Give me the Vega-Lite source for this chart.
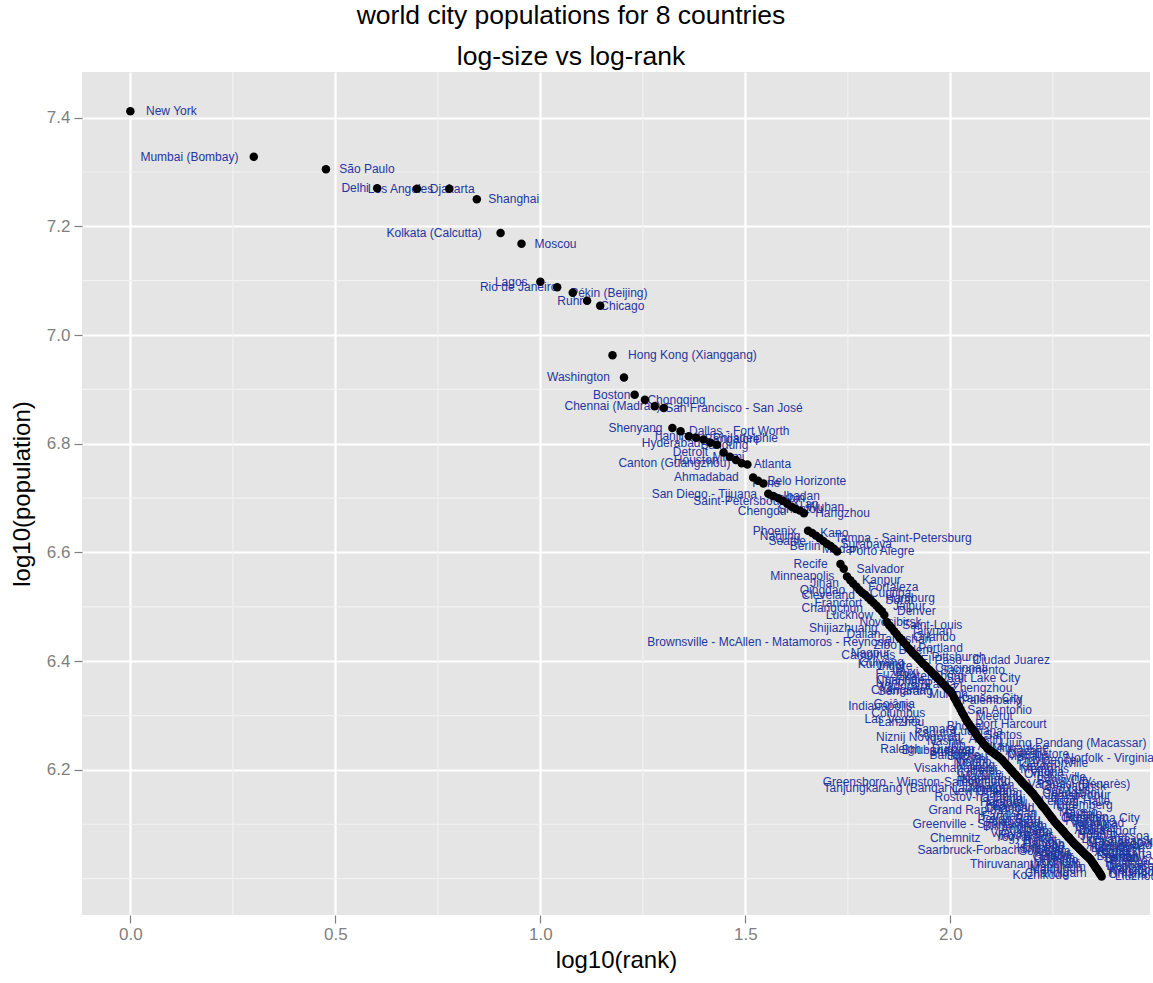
{
"$schema": "https://vega.github.io/schema/vega-lite/v6.json",
"width": 1068, "height": 843,
"autosize": {"type": "none"},
"padding": {"left": 82, "top": 72, "right": 3, "bottom": 68},
"background": "#FFFFFF",
"title": {"text": ["world city populations for 8 countries", "log-size vs log-rank"], "fontSize": 26.5, "fontWeight": "normal", "font": "Liberation Sans", "color": "#000000", "lineHeight": 41, "anchor": "middle", "frame": "group", "dx": -45, "offset": 1},
"config": {
 "view": {"fill": "#E5E5E5", "stroke": null},
 "font": "Liberation Sans",
 "axis": {"format": ".1f", "labelFontSize": 17, "labelColor": "#7F7F7F", "labelFont": "Liberation Sans", "tickColor": "#7F7F7F", "tickSize": 8, "tickWidth": 1.2, "domain": false, "grid": true, "gridColor": "#FFFFFF", "gridWidth": 2.2, "titleFontSize": 24, "titleFont": "Liberation Sans", "titleFontWeight": "normal", "titleColor": "#000000"},
 "axisX": {"labelPadding": 3, "titlePadding": 6},
 "axisY": {"labelPadding": 4, "titlePadding": 12}
},
"data": {"values": [
{"city":"New York","log_rank":0.000,"log_pop":7.412,"label_x":0.100},
{"city":"Mumbai (Bombay)","log_rank":0.301,"log_pop":7.328,"label_x":0.144},
{"city":"São Paulo","log_rank":0.477,"log_pop":7.305,"label_x":0.577},
{"city":"Delhi","log_rank":0.602,"log_pop":7.270,"label_x":0.548},
{"city":"Los Angeles","log_rank":0.699,"log_pop":7.269,"label_x":0.659},
{"city":"Djakarta","log_rank":0.778,"log_pop":7.269,"label_x":0.785},
{"city":"Shanghai","log_rank":0.845,"log_pop":7.250,"label_x":0.935},
{"city":"Kolkata (Calcutta)","log_rank":0.903,"log_pop":7.188,"label_x":0.741},
{"city":"Moscou","log_rank":0.954,"log_pop":7.168,"label_x":1.037},
{"city":"Lagos","log_rank":1.000,"log_pop":7.098,"label_x":0.929},
{"city":"Rio de Janeiro","log_rank":1.041,"log_pop":7.088,"label_x":0.947},
{"city":"Pékin (Beijing)","log_rank":1.079,"log_pop":7.078,"label_x":1.167},
{"city":"Ruhr","log_rank":1.114,"log_pop":7.063,"label_x":1.073},
{"city":"Chicago","log_rank":1.146,"log_pop":7.054,"label_x":1.200},
{"city":"Hong Kong (Xianggang)","log_rank":1.176,"log_pop":6.963,"label_x":1.371},
{"city":"Washington","log_rank":1.204,"log_pop":6.922,"label_x":1.093},
{"city":"Boston","log_rank":1.230,"log_pop":6.890,"label_x":1.174},
{"city":"Chongqing","log_rank":1.255,"log_pop":6.881,"label_x":1.332},
{"city":"Chennai (Madras)","log_rank":1.279,"log_pop":6.869,"label_x":1.176},
{"city":"San Francisco - San José","log_rank":1.301,"log_pop":6.866,"label_x":1.472},
{"city":"Shenyang","log_rank":1.322,"log_pop":6.829,"label_x":1.232},
{"city":"Dallas - Fort Worth","log_rank":1.342,"log_pop":6.823,"label_x":1.485},
{"city":"Tianjin","log_rank":1.362,"log_pop":6.814,"label_x":1.317},
{"city":"Philadelphie","log_rank":1.380,"log_pop":6.811,"label_x":1.500},
{"city":"Bangalore","log_rank":1.398,"log_pop":6.808,"label_x":1.468},
{"city":"Hyderabad","log_rank":1.415,"log_pop":6.802,"label_x":1.319},
{"city":"Bandung","log_rank":1.431,"log_pop":6.798,"label_x":1.449},
{"city":"Detroit","log_rank":1.447,"log_pop":6.784,"label_x":1.366},
{"city":"Miami","log_rank":1.462,"log_pop":6.776,"label_x":1.459},
{"city":"Houston","log_rank":1.477,"log_pop":6.770,"label_x":1.380},
{"city":"Canton (Guangzhou)","log_rank":1.491,"log_pop":6.764,"label_x":1.327},
{"city":"Atlanta","log_rank":1.505,"log_pop":6.762,"label_x":1.566},
{"city":"Ahmadabad","log_rank":1.519,"log_pop":6.738,"label_x":1.405},
{"city":"Belo Horizonte","log_rank":1.531,"log_pop":6.732,"label_x":1.650},
{"city":"Pune","log_rank":1.544,"log_pop":6.727,"label_x":1.551},
{"city":"San Diego - Tijuana","log_rank":1.556,"log_pop":6.708,"label_x":1.400},
{"city":"Ibadan","log_rank":1.568,"log_pop":6.704,"label_x":1.637},
{"city":"Harbin","log_rank":1.580,"log_pop":6.700,"label_x":1.602},
{"city":"Saint-Petersbourg","log_rank":1.591,"log_pop":6.695,"label_x":1.491},
{"city":"Xi'an","log_rank":1.602,"log_pop":6.690,"label_x":1.646},
{"city":"Wuhan","log_rank":1.613,"log_pop":6.684,"label_x":1.695},
{"city":"Shantou","log_rank":1.623,"log_pop":6.680,"label_x":1.634},
{"city":"Chengdu","log_rank":1.633,"log_pop":6.677,"label_x":1.541},
{"city":"Hangzhou","log_rank":1.643,"log_pop":6.672,"label_x":1.737},
{"city":"Phoenix","log_rank":1.653,"log_pop":6.640,"label_x":1.571},
{"city":"Kano","log_rank":1.663,"log_pop":6.636,"label_x":1.717},
{"city":"Nanjing","log_rank":1.672,"log_pop":6.631,"label_x":1.585},
{"city":"Tampa - Saint-Petersburg","log_rank":1.681,"log_pop":6.626,"label_x":1.885},
{"city":"Seattle","log_rank":1.690,"log_pop":6.621,"label_x":1.602},
{"city":"Surabaya","log_rank":1.699,"log_pop":6.616,"label_x":1.795},
{"city":"Berlin","log_rank":1.708,"log_pop":6.612,"label_x":1.646},
{"city":"Medan","log_rank":1.716,"log_pop":6.607,"label_x":1.732},
{"city":"Porto Alegre","log_rank":1.724,"log_pop":6.602,"label_x":1.832},
{"city":"Recife","log_rank":1.732,"log_pop":6.579,"label_x":1.659},
{"city":"Salvador","log_rank":1.740,"log_pop":6.570,"label_x":1.829},
{"city":"Minneapolis","log_rank":1.748,"log_pop":6.556,"label_x":1.639},
{"city":"Kanpur","log_rank":1.756,"log_pop":6.549,"label_x":1.832},
{"city":"Jinan","log_rank":1.763,"log_pop":6.543,"label_x":1.693},
{"city":"Fortaleza","log_rank":1.771,"log_pop":6.537,"label_x":1.861},
{"city":"Qingdao","log_rank":1.778,"log_pop":6.531,"label_x":1.688},
{"city":"Curitiba","log_rank":1.785,"log_pop":6.526,"label_x":1.854},
{"city":"Cleveland","log_rank":1.792,"log_pop":6.522,"label_x":1.702},
{"city":"Hamburg","log_rank":1.799,"log_pop":6.517,"label_x":1.902},
{"city":"Surat","log_rank":1.806,"log_pop":6.512,"label_x":1.876},
{"city":"Francfort","log_rank":1.813,"log_pop":6.507,"label_x":1.727},
{"city":"Jaipur","log_rank":1.820,"log_pop":6.502,"label_x":1.900},
{"city":"Changchun","log_rank":1.826,"log_pop":6.497,"label_x":1.712},
{"city":"Denver","log_rank":1.833,"log_pop":6.492,"label_x":1.917},
{"city":"Lucknow","log_rank":1.839,"log_pop":6.485,"label_x":1.754},
{"city":"Novosibirsk","log_rank":1.845,"log_pop":6.472,"label_x":1.854},
{"city":"Saint-Louis","log_rank":1.851,"log_pop":6.466,"label_x":1.956},
{"city":"Shijiazhuang","log_rank":1.857,"log_pop":6.461,"label_x":1.739},
{"city":"Taiyuan","log_rank":1.863,"log_pop":6.455,"label_x":1.954},
{"city":"Dalian","log_rank":1.869,"log_pop":6.450,"label_x":1.788},
{"city":"Orlando","log_rank":1.875,"log_pop":6.444,"label_x":1.961},
{"city":"Tangshan","log_rank":1.881,"log_pop":6.440,"label_x":1.890},
{"city":"Brownsville - McAllen - Matamoros - Reynosa","log_rank":1.886,"log_pop":6.435,"label_x":1.557},
{"city":"Zibo","log_rank":1.892,"log_pop":6.430,"label_x":1.841},
{"city":"Portland","log_rank":1.898,"log_pop":6.424,"label_x":1.976},
{"city":"Belém","log_rank":1.903,"log_pop":6.420,"label_x":1.915},
{"city":"Nagpur","log_rank":1.908,"log_pop":6.415,"label_x":1.805},
{"city":"Campinas","log_rank":1.914,"log_pop":6.411,"label_x":1.800},
{"city":"Pittsburgh","log_rank":1.919,"log_pop":6.407,"label_x":2.020},
{"city":"El Paso - Ciudad Juarez","log_rank":1.924,"log_pop":6.403,"label_x":2.085},
{"city":"Guiyang","log_rank":1.929,"log_pop":6.399,"label_x":1.832},
{"city":"Kunming","log_rank":1.934,"log_pop":6.395,"label_x":1.832},
{"city":"Indore","log_rank":1.940,"log_pop":6.391,"label_x":1.866},
{"city":"Cincinnati","log_rank":1.944,"log_pop":6.387,"label_x":2.027},
{"city":"Sacramento","log_rank":1.949,"log_pop":6.384,"label_x":2.054},
{"city":"Wuxi","log_rank":1.954,"log_pop":6.380,"label_x":1.890},
{"city":"Fuzhou","log_rank":1.959,"log_pop":6.376,"label_x":1.866},
{"city":"Ekaterinburg","log_rank":1.964,"log_pop":6.373,"label_x":1.951},
{"city":"Salt Lake City","log_rank":1.968,"log_pop":6.369,"label_x":2.080},
{"city":"Charlotte","log_rank":1.973,"log_pop":6.366,"label_x":1.878},
{"city":"Nanchang","log_rank":1.978,"log_pop":6.362,"label_x":1.885},
{"city":"Patna","log_rank":1.982,"log_pop":6.358,"label_x":1.976},
{"city":"Vadodara","log_rank":1.987,"log_pop":6.355,"label_x":1.890},
{"city":"Zhengzhou","log_rank":1.991,"log_pop":6.351,"label_x":2.078},
{"city":"Changsha","log_rank":1.996,"log_pop":6.347,"label_x":1.873},
{"city":"Semarang","log_rank":2.000,"log_pop":6.345,"label_x":1.890},
{"city":"Munich","log_rank":2.004,"log_pop":6.340,"label_x":1.995},
{"city":"Kansas City","log_rank":2.009,"log_pop":6.333,"label_x":2.098},
{"city":"Palembang","log_rank":2.013,"log_pop":6.328,"label_x":2.102},
{"city":"Goiânia","log_rank":2.017,"log_pop":6.322,"label_x":1.863},
{"city":"Indianapolis","log_rank":2.021,"log_pop":6.317,"label_x":1.829},
{"city":"San Antonio","log_rank":2.025,"log_pop":6.311,"label_x":2.120},
{"city":"Columbus","log_rank":2.029,"log_pop":6.305,"label_x":1.873},
{"city":"Meerut","log_rank":2.033,"log_pop":6.300,"label_x":2.107},
{"city":"Las Vegas","log_rank":2.037,"log_pop":6.294,"label_x":1.859},
{"city":"Lanzhou","log_rank":2.041,"log_pop":6.289,"label_x":1.880},
{"city":"Port Harcourt","log_rank":2.045,"log_pop":6.285,"label_x":2.148},
{"city":"Bhopal","log_rank":2.049,"log_pop":6.280,"label_x":2.037},
{"city":"Samara","log_rank":2.053,"log_pop":6.276,"label_x":1.963},
{"city":"Ludhiana","log_rank":2.057,"log_pop":6.272,"label_x":2.068},
{"city":"Kaduna","log_rank":2.061,"log_pop":6.268,"label_x":1.963},
{"city":"Santos","log_rank":2.064,"log_pop":6.264,"label_x":2.129},
{"city":"Niznij Novgorod","log_rank":2.068,"log_pop":6.260,"label_x":1.922},
{"city":"Austin","log_rank":2.072,"log_pop":6.256,"label_x":2.085},
{"city":"Nashik","log_rank":2.076,"log_pop":6.253,"label_x":1.988},
{"city":"Ujung Pandang (Macassar)","log_rank":2.079,"log_pop":6.250,"label_x":2.300},
{"city":"Jilin","log_rank":2.083,"log_pop":6.246,"label_x":2.012},
{"city":"Agra","log_rank":2.086,"log_pop":6.244,"label_x":2.098},
{"city":"Milwaukee","log_rank":2.090,"log_pop":6.240,"label_x":2.171},
{"city":"Raleigh - Durham","log_rank":2.093,"log_pop":6.238,"label_x":1.944},
{"city":"Bhubaneswar","log_rank":2.097,"log_pop":6.236,"label_x":1.971},
{"city":"Aracaju","log_rank":2.100,"log_pop":6.234,"label_x":2.184},
{"city":"Stuttgart","log_rank":2.104,"log_pop":6.232,"label_x":2.004},
{"city":"Coimbatore","log_rank":2.107,"log_pop":6.230,"label_x":2.214},
{"city":"Baltimore","log_rank":2.111,"log_pop":6.228,"label_x":2.011},
{"city":"Manaus","log_rank":2.114,"log_pop":6.226,"label_x":2.190},
{"city":"Suzhou","log_rank":2.117,"log_pop":6.225,"label_x":2.041},
{"city":"Norfolk - Virginia Beach","log_rank":2.121,"log_pop":6.222,"label_x":2.434},
{"city":"Kochi","log_rank":2.124,"log_pop":6.220,"label_x":2.056},
{"city":"Providence","log_rank":2.127,"log_pop":6.218,"label_x":2.234},
{"city":"Ningbo","log_rank":2.130,"log_pop":6.215,"label_x":2.054},
{"city":"Jacksonville","log_rank":2.134,"log_pop":6.212,"label_x":2.257},
{"city":"Malang","log_rank":2.137,"log_pop":6.209,"label_x":2.061},
{"city":"Kazan","log_rank":2.140,"log_pop":6.207,"label_x":2.208},
{"city":"Visakhapatnam","log_rank":2.143,"log_pop":6.204,"label_x":2.012},
{"city":"Memphis","log_rank":2.146,"log_pop":6.202,"label_x":2.230},
{"city":"Hefei","log_rank":2.149,"log_pop":6.199,"label_x":2.081},
{"city":"Vitória","log_rank":2.152,"log_pop":6.197,"label_x":2.236},
{"city":"Cologne","log_rank":2.155,"log_pop":6.194,"label_x":2.071},
{"city":"Omsk","log_rank":2.158,"log_pop":6.192,"label_x":2.218},
{"city":"Madurai","log_rank":2.161,"log_pop":6.189,"label_x":2.077},
{"city":"Louisville","log_rank":2.164,"log_pop":6.187,"label_x":2.271},
{"city":"Nanning","log_rank":2.167,"log_pop":6.184,"label_x":2.083},
{"city":"Benin City","log_rank":2.170,"log_pop":6.182,"label_x":2.277},
{"city":"Richmond","log_rank":2.173,"log_pop":6.179,"label_x":2.081},
{"city":"Greensboro - Winston-Salem","log_rank":2.176,"log_pop":6.177,"label_x":1.878},
{"city":"Varanasi (Bénarès)","log_rank":2.179,"log_pop":6.174,"label_x":2.314},
{"city":"Xiamen","log_rank":2.182,"log_pop":6.172,"label_x":2.106},
{"city":"Chelyabinsk","log_rank":2.185,"log_pop":6.170,"label_x":2.300},
{"city":"Jabalpur","log_rank":2.188,"log_pop":6.167,"label_x":2.096},
{"city":"Tanjungkarang (Bandar Lampung)","log_rank":2.190,"log_pop":6.166,"label_x":1.913},
{"city":"São Luís","log_rank":2.193,"log_pop":6.163,"label_x":2.285},
{"city":"New Orleans","log_rank":2.196,"log_pop":6.161,"label_x":2.081},
{"city":"Changzhou","log_rank":2.199,"log_pop":6.158,"label_x":2.299},
{"city":"Padang","log_rank":2.201,"log_pop":6.157,"label_x":2.125},
{"city":"Jamshedpur","log_rank":2.204,"log_pop":6.154,"label_x":2.311},
{"city":"Rostov-na-Donu","log_rank":2.207,"log_pop":6.151,"label_x":2.068},
{"city":"Natal","log_rank":2.210,"log_pop":6.148,"label_x":2.278},
{"city":"Urumqi","log_rank":2.212,"log_pop":6.146,"label_x":2.136},
{"city":"Leipzig-Halle","log_rank":2.215,"log_pop":6.143,"label_x":2.305},
{"city":"Hartford","log_rank":2.217,"log_pop":6.141,"label_x":2.125},
{"city":"Asansol","log_rank":2.220,"log_pop":6.138,"label_x":2.136},
{"city":"Nuremberg","log_rank":2.223,"log_pop":6.135,"label_x":2.323},
{"city":"Baotou","log_rank":2.225,"log_pop":6.133,"label_x":2.149},
{"city":"Ufa","log_rank":2.228,"log_pop":6.131,"label_x":2.281},
{"city":"Dhanbad","log_rank":2.230,"log_pop":6.129,"label_x":2.146},
{"city":"Grand Rapids","log_rank":2.233,"log_pop":6.126,"label_x":2.037},
{"city":"Maceió","log_rank":2.236,"log_pop":6.123,"label_x":2.312},
{"city":"Anshan","log_rank":2.238,"log_pop":6.121,"label_x":2.162},
{"city":"Buffalo","log_rank":2.241,"log_pop":6.118,"label_x":2.325},
{"city":"Faridabad","log_rank":2.243,"log_pop":6.116,"label_x":2.143},
{"city":"Dresden","log_rank":2.246,"log_pop":6.113,"label_x":2.330},
{"city":"Oklahoma City","log_rank":2.248,"log_pop":6.111,"label_x":2.366},
{"city":"Pekan Baru","log_rank":2.250,"log_pop":6.109,"label_x":2.143},
{"city":"Fushun","log_rank":2.253,"log_pop":6.106,"label_x":2.329},
{"city":"Allahabad","log_rank":2.255,"log_pop":6.104,"label_x":2.155},
{"city":"Volgograd","log_rank":2.258,"log_pop":6.102,"label_x":2.358},
{"city":"Greenville - Spartanburg","log_rank":2.260,"log_pop":6.100,"label_x":2.067},
{"city":"Teresina","log_rank":2.262,"log_pop":6.098,"label_x":2.354},
{"city":"Birmingham","log_rank":2.265,"log_pop":6.096,"label_x":2.158},
{"city":"Qiqihar","log_rank":2.267,"log_pop":6.094,"label_x":2.351},
{"city":"Amritsar","log_rank":2.270,"log_pop":6.092,"label_x":2.178},
{"city":"Abuja","log_rank":2.272,"log_pop":6.090,"label_x":2.340},
{"city":"Perm","log_rank":2.274,"log_pop":6.088,"label_x":2.214},
{"city":"Düsseldorf","log_rank":2.276,"log_pop":6.087,"label_x":2.383},
{"city":"Vijayawada","log_rank":2.279,"log_pop":6.084,"label_x":2.172},
{"city":"Hohhot","log_rank":2.281,"log_pop":6.082,"label_x":2.357},
{"city":"Rochester","log_rank":2.283,"log_pop":6.080,"label_x":2.183},
{"city":"João Pessoa","log_rank":2.286,"log_pop":6.078,"label_x":2.401},
{"city":"Yogyakarta","log_rank":2.288,"log_pop":6.076,"label_x":2.181},
{"city":"Chemnitz","log_rank":2.290,"log_pop":6.075,"label_x":2.012},
{"city":"Luoyang","log_rank":2.292,"log_pop":6.073,"label_x":2.376},
{"city":"Rajkot","log_rank":2.294,"log_pop":6.071,"label_x":2.218},
{"city":"Krasnoyarsk","log_rank":2.297,"log_pop":6.069,"label_x":2.412},
{"city":"Tucson","log_rank":2.299,"log_pop":6.067,"label_x":2.223},
{"city":"Florianópolis","log_rank":2.301,"log_pop":6.065,"label_x":2.432},
{"city":"Handan","log_rank":2.303,"log_pop":6.064,"label_x":2.227},
{"city":"Aurangabad","log_rank":2.305,"log_pop":6.062,"label_x":2.412},
{"city":"Aba","log_rank":2.307,"log_pop":6.061,"label_x":2.254},
{"city":"Hannover","log_rank":2.310,"log_pop":6.059,"label_x":2.402},
{"city":"Honolulu","log_rank":2.312,"log_pop":6.057,"label_x":2.220},
{"city":"Datong","log_rank":2.314,"log_pop":6.056,"label_x":2.390},
{"city":"Srinagar","log_rank":2.316,"log_pop":6.054,"label_x":2.224},
{"city":"Saarbruck-Forbach","log_rank":2.318,"log_pop":6.053,"label_x":2.045},
{"city":"Voronezh","log_rank":2.320,"log_pop":6.051,"label_x":2.412},
{"city":"Sorocaba","log_rank":2.322,"log_pop":6.050,"label_x":2.230},
{"city":"Xuzhou","log_rank":2.324,"log_pop":6.048,"label_x":2.400},
{"city":"Raipur","log_rank":2.326,"log_pop":6.047,"label_x":2.250},
{"city":"Surakarta","log_rank":2.328,"log_pop":6.045,"label_x":2.428},
{"city":"Tulsa","log_rank":2.330,"log_pop":6.044,"label_x":2.262},
{"city":"Bremen","log_rank":2.332,"log_pop":6.042,"label_x":2.408},
{"city":"Gwalior","log_rank":2.334,"log_pop":6.041,"label_x":2.250},
{"city":"Yantai","log_rank":2.336,"log_pop":6.040,"label_x":2.412},
{"city":"Onitsha","log_rank":2.338,"log_pop":6.038,"label_x":2.254},
{"city":"Saratov","log_rank":2.340,"log_pop":6.037,"label_x":2.424},
{"city":"Fresno","log_rank":2.342,"log_pop":6.035,"label_x":2.266},
{"city":"Ribeirão Preto","log_rank":2.344,"log_pop":6.033,"label_x":2.483},
{"city":"Jodhpur","log_rank":2.346,"log_pop":6.030,"label_x":2.262},
{"city":"Huainan","log_rank":2.348,"log_pop":6.028,"label_x":2.432},
{"city":"Thiruvananthapuram","log_rank":2.350,"log_pop":6.026,"label_x":2.183},
{"city":"Denpasar","log_rank":2.352,"log_pop":6.024,"label_x":2.444},
{"city":"Mannheim","log_rank":2.354,"log_pop":6.021,"label_x":2.262},
{"city":"Ranchi","log_rank":2.356,"log_pop":6.019,"label_x":2.432},
{"city":"Maiduguri","log_rank":2.358,"log_pop":6.017,"label_x":2.258},
{"city":"Wenzhou","log_rank":2.360,"log_pop":6.015,"label_x":2.444},
{"city":"Krasnodar","log_rank":2.362,"log_pop":6.013,"label_x":2.455},
{"city":"Chandigarh","log_rank":2.364,"log_pop":6.010,"label_x":2.257},
{"city":"Omaha","log_rank":2.365,"log_pop":6.009,"label_x":2.433},
{"city":"Kozhikode","log_rank":2.367,"log_pop":6.007,"label_x":2.220},
{"city":"Liuzhou","log_rank":2.369,"log_pop":6.004,"label_x":2.453}
]},
"layer": [
{"data": {"values": [{"log_rank":0.25},{"log_rank":0.75},{"log_rank":1.25},{"log_rank":1.75},{"log_rank":2.25}]},
 "mark": {"type": "rule", "color": "#F2F2F2", "strokeWidth": 1.2},
 "encoding": {"x": {"field": "log_rank", "type": "quantitative", "title": "log10(rank)", "scale": {"domain": [-0.118, 2.487], "nice": false, "zero": false}, "axis": {"values": [0, 0.5, 1, 1.5, 2]}}}},
{"data": {"values": [{"log_pop":6.0},{"log_pop":6.1},{"log_pop":6.3},{"log_pop":6.5},{"log_pop":6.7},{"log_pop":6.9},{"log_pop":7.1},{"log_pop":7.3}]},
 "mark": {"type": "rule", "color": "#F2F2F2", "strokeWidth": 1.2},
 "encoding": {"y": {"field": "log_pop", "type": "quantitative", "title": "log10(population)", "scale": {"domain": [5.933, 7.484], "nice": false, "zero": false}, "axis": {"values": [6.2, 6.4, 6.6, 6.8, 7.0, 7.2, 7.4]}}}},
{"mark": {"type": "text", "color": "#1F35A0", "fontSize": 12, "font": "Liberation Sans", "align": "center", "baseline": "middle"},
 "encoding": {
  "x": {"field": "label_x", "type": "quantitative", "title": "log10(rank)", "scale": {"domain": [-0.118, 2.487], "nice": false, "zero": false}, "axis": {"values": [0, 0.5, 1, 1.5, 2]}},
  "y": {"field": "log_pop", "type": "quantitative", "title": "log10(population)", "scale": {"domain": [5.933, 7.484], "nice": false, "zero": false}, "axis": {"values": [6.2, 6.4, 6.6, 6.8, 7.0, 7.2, 7.4]}},
  "text": {"field": "city", "type": "nominal"}}},
{"mark": {"type": "circle", "color": "#000000", "opacity": 1, "size": 72},
 "encoding": {
  "x": {"field": "log_rank", "type": "quantitative", "title": "log10(rank)", "scale": {"domain": [-0.118, 2.487], "nice": false, "zero": false}, "axis": {"values": [0, 0.5, 1, 1.5, 2]}},
  "y": {"field": "log_pop", "type": "quantitative", "title": "log10(population)", "scale": {"domain": [5.933, 7.484], "nice": false, "zero": false}, "axis": {"values": [6.2, 6.4, 6.6, 6.8, 7.0, 7.2, 7.4]}}}}
]
}
